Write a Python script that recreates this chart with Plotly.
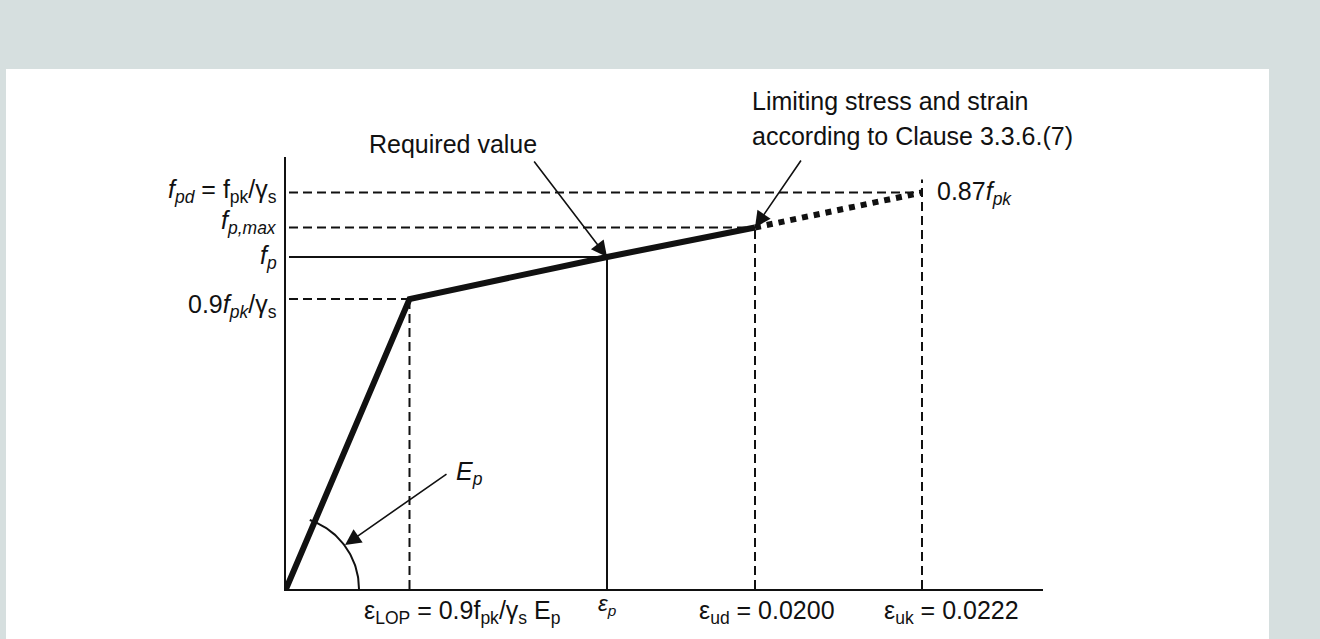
import numpy as np
import plotly.graph_objects as go

# ---- schematic data (axis units, diagram is not to scale) ----
strain_names = ["eps_LOP", "eps_p", "eps_ud", "eps_uk"]
strain_vals = [1.235, 3.21, 4.69, 6.36]
stress_names = ["f_09", "f_p", "f_pmax", "f_pd"]
stress_vals = [2.90, 3.32, 3.615, 3.965]

x_tick_labels = [
    "ε<sub>LOP</sub> = 0.9f<sub>pk</sub>/γ<sub>s</sub> E<sub>p</sub>",
    "<i>ε<sub>p</sub></i>",
    "ε<sub>ud</sub> = 0.0200",
    "ε<sub>uk</sub> = 0.0222",
]
y_tick_labels = [
    "0.9<i>f<sub>pk</sub></i>/γ<sub>s</sub>",
    "<i>f<sub>p</sub></i>",
    "<i>f<sub>p,max</sub></i>",
    "<i>f<sub>pd</sub></i> = f<sub>pk</sub>/γ<sub>s</sub>",
]

eLOP, ep, eud, euk = strain_vals
f09, fp, fpmax, fpd = stress_vals

XMAX, YMAX = 7.57, 4.32
BLACK = "#111111"
FONT = "Liberation Sans, Arial, sans-serif"


def px(v):
    return v / XMAX


def py(v):
    return v / YMAX


fig = go.Figure()

# thin dashed guide lines
gx = [0.03, eLOP, None, 0.03, eud, None, 0.03, euk, None,
      eLOP, eLOP, None, eud, eud, None, euk, euk]
gy = [f09, f09, None, fpmax, fpmax, None, fpd, fpd, None,
      0, f09, None, 0, fpmax, None, 0, fpd + 0.13]
fig.add_trace(go.Scatter(x=gx, y=gy, mode="lines",
                         line=dict(color=BLACK, width=2, dash="9px,5px"),
                         hoverinfo="skip", showlegend=False))

# thin solid lines for required value
fig.add_trace(go.Scatter(x=[0.03, ep, None, ep, ep], y=[fp, fp, None, 0, fp],
                         mode="lines", line=dict(color=BLACK, width=2),
                         hoverinfo="skip", showlegend=False))

# thick stress-strain curve
fig.add_trace(go.Scatter(x=[0, eLOP, ep, eud], y=[0, f09, fp, fpmax], mode="lines",
                         line=dict(color=BLACK, width=6),
                         hoverinfo="skip", showlegend=False))
# dotted extension to f_pd
fig.add_trace(go.Scatter(x=[eud, euk], y=[fpmax, fpd], mode="lines",
                         line=dict(color=BLACK, width=6, dash="dot"),
                         hoverinfo="skip", showlegend=False))

# arc for E_p
th = np.radians(np.linspace(0, 71, 60))
fig.add_trace(go.Scatter(x=0.73 * np.cos(th), y=0.73 * np.sin(th), mode="lines",
                         line=dict(color=BLACK, width=2),
                         hoverinfo="skip", showlegend=False))

ann = []


def text_ann(x, y, text, xanchor="left", size=25):
    ann.append(dict(x=px(x), y=py(y), xref="paper", yref="paper", text=text,
                    showarrow=False, xanchor=xanchor, yanchor="middle",
                    font=dict(size=size, color=BLACK, family=FONT)))


# y labels
y_label_offsets = [-0.07, 0.0, 0.055, 0.02]
for lab, v, off in zip(y_tick_labels, stress_vals, y_label_offsets):
    text_ann(-0.075, v + off, lab, xanchor="right")

# x labels
x_label_pos = [(0.76, -0.23, "left", 25), (ep, -0.16, "center", 22),
               (4.11, -0.23, "left", 25), (5.96, -0.23, "left", 25)]
for lab, (xx, yy, xa, sz) in zip(x_tick_labels, x_label_pos):
    text_ann(xx, yy, lab, xanchor=xa, size=sz)

# other text
text_ann(6.49, fpd, "0.87<i>f<sub>pk</sub></i>")
text_ann(0.81, 4.45, "Required value")
text_ann(4.64, 4.88, "Limiting stress and strain")
text_ann(4.64, 4.53, "according to Clause 3.3.6.(7)")
text_ann(1.68, 1.16, "<i>E<sub>p</sub></i>")

# arrows (head and tail both inside the axis range)
arrows = [((ep, fp), (2.47, 4.29)),
          ((eud, fpmax), (5.16, 4.30)),
          ((0.59, 0.44), (1.62, 1.16))]
for (hx, hy), (tx, ty) in arrows:
    ann.append(dict(x=hx, y=hy, ax=tx, ay=ty,
                    xref="x", yref="y", axref="x", ayref="y",
                    text="", showarrow=True, arrowhead=2, arrowsize=2, arrowwidth=1.6,
                    arrowcolor=BLACK, standoff=0, startstandoff=0))

shapes = [dict(type="rect", xref="paper", yref="paper",
               x0=(6 - 286) / 757, x1=(1269 - 286) / 757,
               y0=-50 / 432, y1=(589 - 69) / 432,
               fillcolor="white", line=dict(width=0), layer="below")]

fig.update_layout(
    width=1320, height=639, autosize=False,
    margin=dict(l=286, r=277, t=157, b=50, pad=0),
    paper_bgcolor="#d6dfdf", plot_bgcolor="white",
    xaxis=dict(range=[0, XMAX], showgrid=False, zeroline=False, showticklabels=False,
               ticks="", showline=True, linecolor=BLACK, linewidth=2, fixedrange=True),
    yaxis=dict(range=[0, YMAX], showgrid=False, zeroline=False, showticklabels=False,
               ticks="", showline=True, linecolor=BLACK, linewidth=2, fixedrange=True),
    annotations=ann, shapes=shapes,
    font=dict(family=FONT, color=BLACK),
)

fig.write_html("out.html", config={"displayModeBar": False})
